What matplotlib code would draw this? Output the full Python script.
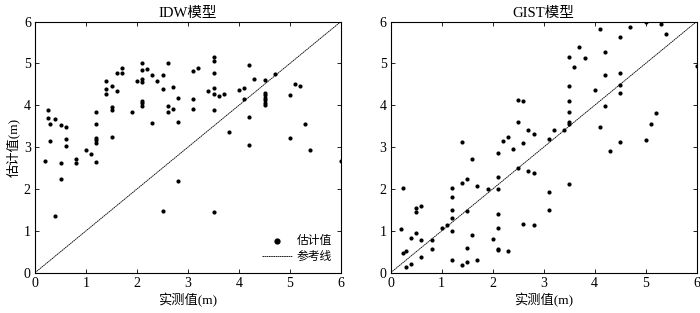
import numpy as np
import matplotlib
matplotlib.use("Agg")
import matplotlib.pyplot as plt

plt.rcParams["font.family"] = ["Liberation Serif", "Noto Sans CJK SC"]
plt.rcParams["font.size"] = 8.5

# ── data ──────────────────────────────────────────────────────────────
idw_x = [0.20, 0.25, 0.25, 0.30, 0.30, 0.40, 0.40, 0.50, 0.50, 0.50,
         0.60, 0.60, 0.60, 0.80, 0.80, 1.00, 1.10,
         1.20, 1.20, 1.20, 1.20, 1.20, 1.20,
         1.40, 1.40, 1.40, 1.50, 1.50, 1.50, 1.50, 1.60, 1.60, 1.70, 1.70,
         1.90, 2.00, 2.10, 2.10, 2.10, 2.10, 2.10, 2.10, 2.10,
         2.20, 2.30, 2.30, 2.40, 2.50, 2.50, 2.50, 2.60, 2.60, 2.60,
         2.70, 2.70, 2.80, 2.80, 2.80, 3.10, 3.10, 3.10, 3.20, 3.40,
         3.50, 3.50, 3.50, 3.50, 3.50, 3.50, 3.50, 3.60, 3.70, 3.80,
         4.00, 4.10, 4.10, 4.20, 4.20, 4.20, 4.30,
         4.50, 4.50, 4.50, 4.50, 4.50, 4.50, 4.50,
         4.70, 5.00, 5.00, 5.10, 5.20, 5.30, 5.40, 6.00]
idw_y = [2.67, 3.88, 3.69, 3.54, 3.14, 3.66, 1.35, 3.52, 2.61, 2.25,
         3.48, 3.20, 3.03, 2.71, 2.61, 2.93, 2.83,
         3.84, 3.56, 3.21, 3.16, 3.10, 2.65,
         4.59, 4.39, 4.27, 4.46, 3.95, 3.89, 3.23, 4.78, 4.35, 4.90, 4.78,
         3.83, 4.59, 5.02, 4.83, 4.63, 4.55, 4.10, 4.05, 3.98,
         4.86, 4.72, 3.58, 4.58, 4.73, 4.39, 1.47, 5.01, 3.97, 3.83,
         4.44, 3.92, 4.17, 3.61, 2.19, 4.81, 4.15, 3.91, 4.89, 4.35,
         5.15, 5.05, 4.77, 4.41, 4.26, 3.88, 1.44, 4.21, 4.26, 3.37,
         4.37, 4.42, 4.16, 4.96, 3.72, 3.06, 4.63,
         4.60, 4.30, 4.24, 4.18, 4.12, 4.06, 4.00,
         4.74, 4.24, 3.22, 4.50, 4.46, 3.55, 2.94, 2.66]

gist_x = [0.20, 0.25, 0.25, 0.30, 0.30, 0.40, 0.40, 0.50, 0.50, 0.50,
          0.60, 0.60, 0.60, 0.80, 0.80, 1.00, 1.10,
          1.20, 1.20, 1.20, 1.20, 1.20, 1.20, 1.40, 1.40, 1.40,
          1.50, 1.50, 1.50, 1.50, 1.60, 1.60, 1.70, 1.70, 1.90, 2.00,
          2.10, 2.10, 2.10, 2.10, 2.10, 2.10, 2.10, 2.20, 2.30, 2.30, 2.40,
          2.50, 2.50, 2.50, 2.60, 2.60, 2.60, 2.70, 2.70, 2.80, 2.80, 2.80,
          3.10, 3.10, 3.10, 3.20, 3.40,
          3.50, 3.50, 3.50, 3.50, 3.50, 3.50, 3.50,
          3.60, 3.70, 3.80, 4.00, 4.10, 4.10, 4.20, 4.20, 4.20, 4.30,
          4.50, 4.50, 4.50, 4.50, 4.50, 4.70, 5.00, 5.00,
          5.10, 5.20, 5.30, 5.40, 6.00]
gist_y = [1.04, 2.03, 0.46, 0.53, 0.13, 0.84, 0.21, 1.54, 1.44, 0.94,
          1.60, 0.77, 0.37, 0.77, 0.57, 1.06, 1.15,
          2.02, 1.80, 1.49, 1.31, 0.99, 0.30, 2.15, 0.18, 3.13,
          2.24, 1.47, 0.58, 0.25, 2.72, 0.90, 2.08, 0.30, 2.00, 0.80,
          2.87, 2.28, 1.99, 1.40, 1.07, 0.57, 0.54, 3.14, 3.25, 0.52, 2.95,
          4.13, 3.61, 2.51, 4.09, 3.09, 1.16, 3.40, 2.43, 3.31, 2.38, 1.15,
          3.19, 1.92, 1.50, 3.41, 3.40,
          5.15, 4.45, 4.10, 3.85, 3.59, 3.54, 2.12,
          4.91, 5.38, 5.12, 4.36, 5.81, 3.47, 5.26, 4.73, 3.98, 2.90,
          5.62, 4.76, 4.48, 4.30, 3.11, 5.87, 5.98, 3.18,
          3.55, 3.81, 5.93, 5.70, 4.93]

ref_line = [0, 6]
ticks = [0, 1, 2, 3, 4, 5, 6]

# ── figure ────────────────────────────────────────────────────────────
fig = plt.figure(figsize=(7.0, 3.13), dpi=100)
ax1 = fig.add_axes([35 / 700, 40.3 / 313, 306 / 700, 251.2 / 313])
ax2 = fig.add_axes([390.7 / 700, 40.3 / 313, 306 / 700, 251.2 / 313])

for ax, xs, ys, title in [(ax1, idw_x, idw_y, "IDW模型"),
                          (ax2, gist_x, gist_y, "GIST模型")]:
    ax.scatter(xs, ys, s=9, color="black", linewidths=0, label="估计值")
    ax.plot(ref_line, ref_line, color="black", lw=0.6,
            linestyle=(0, (2, 0.6)), label="参考线")
    ax.set_xlim(0, 6)
    ax.set_ylim(0, 6)
    ax.set_xticks(ticks)
    ax.set_yticks(ticks)
    ax.tick_params(direction="in", length=3, width=0.6,
                   top=True, right=True, labelsize=10, pad=3)
    for sp in ax.spines.values():
        sp.set_linewidth(0.8)
    ax.set_title(title, fontsize=10.5, pad=3)
    ax.set_xlabel("实测值(m)", fontsize=9.5, labelpad=2)

ax1.set_ylabel("估计值(m)", fontsize=9.5, labelpad=3)
ax1.legend(loc="lower right", frameon=False, fontsize=8.5, markerscale=1.5,
           handlelength=2.5, handletextpad=0.4, borderaxespad=0.4,
           labelspacing=0.35)

fig.savefig("out.png", dpi=100)
